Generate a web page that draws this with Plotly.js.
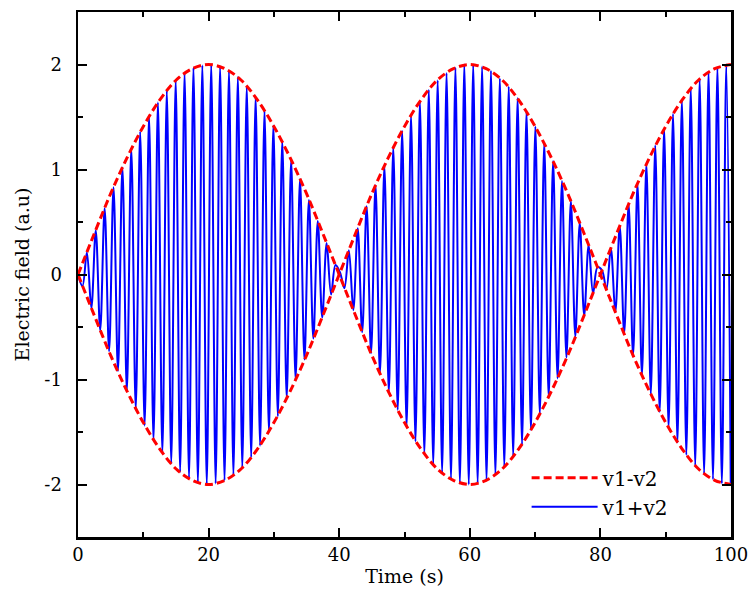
<!DOCTYPE html>
<html>
<head>
<meta charset="utf-8">
<script src="https://cdn.plot.ly/plotly-3.0.1.min.js"></script>
<style>
  html, body { margin: 0; padding: 0; background: #ffffff; }
  #chart { width: 750px; height: 595px; }
</style>
</head>
<body>
<div id="chart"></div>
<script>
// Carrier signal v1+v2: successive extrema (time in s, field in a.u.)
const sumTime = [
  0, 0.68, 1.36, 2.04, 2.72, 3.4, 4.08, 4.76, 5.44, 6.12,
  6.8, 7.48, 8.16, 8.84, 9.52, 10.2, 10.88, 11.56, 12.24, 12.92,
  13.6, 14.28, 14.96, 15.64, 16.32, 17, 17.68, 18.36, 19.04, 19.72,
  20.4, 21.08, 21.76, 22.44, 23.12, 23.8, 24.48, 25.16, 25.84, 26.52,
  27.2, 27.88, 28.56, 29.24, 29.92, 30.6, 31.28, 31.96, 32.64, 33.32,
  34, 34.68, 35.36, 36.04, 36.72, 37.4, 38.08, 38.76, 39.44, 40.12,
  40.8, 41.48, 42.16, 42.84, 43.52, 44.2, 44.88, 45.56, 46.24, 46.92,
  47.6, 48.28, 48.96, 49.64, 50.32, 51, 51.68, 52.36, 53.04, 53.72,
  54.4, 55.08, 55.76, 56.44, 57.12, 57.8, 58.48, 59.16, 59.84, 60.52,
  61.2, 61.88, 62.56, 63.24, 63.92, 64.6, 65.28, 65.96, 66.64, 67.32,
  68, 68.68, 69.36, 70.04, 70.72, 71.4, 72.08, 72.76, 73.44, 74.12,
  74.8, 75.48, 76.16, 76.84, 77.52, 78.2, 78.88, 79.56, 80.24, 80.92,
  81.6, 82.28, 82.96, 83.64, 84.32, 85, 85.68, 86.36, 87.04, 87.72,
  88.4, 89.08, 89.76, 90.44, 91.12, 91.8, 92.48, 93.16, 93.84, 94.52,
  95.2, 95.88, 96.56, 97.24, 97.92, 98.6, 99.28, 99.96
];
const sumField = [
  0, -0.11, 0.21, -0.32, 0.42, -0.53, 0.63, -0.73, 0.83, -0.92,
  1.02, -1.11, 1.20, -1.28, 1.36, -1.44, 1.51, -1.58, 1.64, -1.70,
  1.75, -1.80, 1.85, -1.88, 1.92, -1.94, 1.97, -1.98, 1.99, -2.00,
  2.00, -1.99, 1.98, -1.96, 1.94, -1.91, 1.88, -1.84, 1.79, -1.74,
  1.69, -1.63, 1.56, -1.50, 1.42, -1.35, 1.27, -1.18, 1.09, -1.00,
  0.91, -0.81, 0.71, -0.61, 0.51, -0.41, 0.30, -0.19, 0.09, 0.02,
  -0.13, 0.23, -0.34, 0.44, -0.55, 0.65, -0.75, 0.85, -0.94, 1.03,
  -1.12, 1.21, -1.29, 1.37, -1.45, 1.52, -1.59, 1.65, -1.71, 1.76,
  -1.81, 1.85, -1.89, 1.92, -1.95, 1.97, -1.99, 2.00, -2.00, 2.00,
  -1.99, 1.98, -1.96, 1.94, -1.91, 1.87, -1.83, 1.79, -1.73, 1.68,
  -1.62, 1.55, -1.48, 1.41, -1.33, 1.25, -1.17, 1.08, -0.99, 0.89,
  -0.79, 0.70, -0.59, 0.49, -0.39, 0.28, -0.18, 0.07, 0.04, -0.14,
  0.25, -0.36, 0.46, -0.56, 0.67, -0.77, 0.86, -0.96, 1.05, -1.14,
  1.23, -1.31, 1.39, -1.46, 1.53, -1.60, 1.66, -1.72, 1.77, -1.82,
  1.86, -1.90, 1.93, -1.95, 1.97, -1.99, 2.00, -2.00
];

// Beat envelope v1-v2 and its mirror
const envTime = [
  0, 2.5, 5, 7.5, 10, 12.5, 15, 17.5, 20, 22.5,
  25, 27.5, 30, 32.5, 35, 37.5, 40, 42.5, 45, 47.5,
  50, 52.5, 55, 57.5, 60, 62.5, 65, 67.5, 70, 72.5,
  75, 77.5, 80, 82.5, 85, 87.5, 90, 92.5, 95, 97.5, 100
];
const envUpper = [
  0, 0.39, 0.77, 1.11, 1.41, 1.66, 1.85, 1.96, 2.00, 1.96,
  1.85, 1.66, 1.41, 1.11, 0.77, 0.39, 0, -0.39, -0.77, -1.11,
  -1.41, -1.66, -1.85, -1.96, -2.00, -1.96, -1.85, -1.66, -1.41, -1.11,
  -0.77, -0.39, 0, 0.39, 0.77, 1.11, 1.41, 1.66, 1.85, 1.96, 2.00
];
const envLower = [
  0, -0.39, -0.77, -1.11, -1.41, -1.66, -1.85, -1.96, -2.00, -1.96,
  -1.85, -1.66, -1.41, -1.11, -0.77, -0.39, 0, 0.39, 0.77, 1.11,
  1.41, 1.66, 1.85, 1.96, 2.00, 1.96, 1.85, 1.66, 1.41, 1.11,
  0.77, 0.39, 0, -0.39, -0.77, -1.11, -1.41, -1.66, -1.85, -1.96, -2.00
];

const xTickVals = [0, 20, 40, 60, 80, 100];
const xTickText = ['0', '20', '40', '60', '80', '100'];
const yTickVals = [-2, -1, 0, 1, 2];
const yTickText = ['-2', '-1', '0', '1', '2'];

const FONT = 'DejaVu Serif, serif';
const RED = '#ff0000';
const BLUE = '#0000ff';

const traces = [
  {
    x: sumTime, y: sumField, type: 'scatter', mode: 'lines',
    name: 'v1+v2',
    line: { color: BLUE, width: 2, shape: 'spline', smoothing: 1 }
  },
  {
    x: envTime, y: envUpper, type: 'scatter', mode: 'lines',
    name: 'v1-v2', legendgroup: 'env',
    line: { color: RED, width: 3, dash: '8px,4px', shape: 'spline' }
  },
  {
    x: envTime, y: envLower, type: 'scatter', mode: 'lines',
    name: 'v1-v2', legendgroup: 'env', showlegend: false,
    line: { color: RED, width: 3, dash: '8px,4px', shape: 'spline' }
  }
];

const axisCommon = {
  showgrid: false, zeroline: false,
  showline: true, linecolor: '#000000', linewidth: 2.5,
  mirror: 'allticks',
  ticks: 'inside', ticklen: 9, tickwidth: 2, tickcolor: '#000000',
  tickfont: { family: FONT, size: 18, color: '#000000' }
};

const layout = {
  width: 750, height: 595,
  margin: { l: 78, r: 19, t: 12, b: 58 },
  paper_bgcolor: '#ffffff', plot_bgcolor: '#ffffff',
  showlegend: true,
  legend: {
    x: 0.687, y: 0.15, xanchor: 'left', yanchor: 'top',
    traceorder: 'reversed',
    bgcolor: 'rgba(0,0,0,0)',
    font: { family: FONT, size: 20, color: '#000000' },
    itemwidth: 66
  },
  xaxis: Object.assign({}, axisCommon, {
    range: [0, 100],
    tickvals: xTickVals, ticktext: xTickText,
    minor: { dtick: 10, tick0: 0, ticks: 'inside', ticklen: 5, tickwidth: 2, tickcolor: '#000000' },
    title: { text: 'Time (s)', font: { family: FONT, size: 19, color: '#000000' }, standoff: 6 }
  }),
  yaxis: Object.assign({}, axisCommon, {
    range: [-2.5, 2.5],
    tickvals: yTickVals, ticktext: yTickText,
    ticklabelstandoff: 10,
    minor: { dtick: 0.5, tick0: 0, ticks: 'inside', ticklen: 5, tickwidth: 2, tickcolor: '#000000' },
    title: { text: 'Electric field (a.u)', font: { family: FONT, size: 19, color: '#000000' }, standoff: 10 }
  })
};

Plotly.newPlot('chart', traces, layout, { staticPlot: true, displayModeBar: false });
</script>
</body>
</html>
